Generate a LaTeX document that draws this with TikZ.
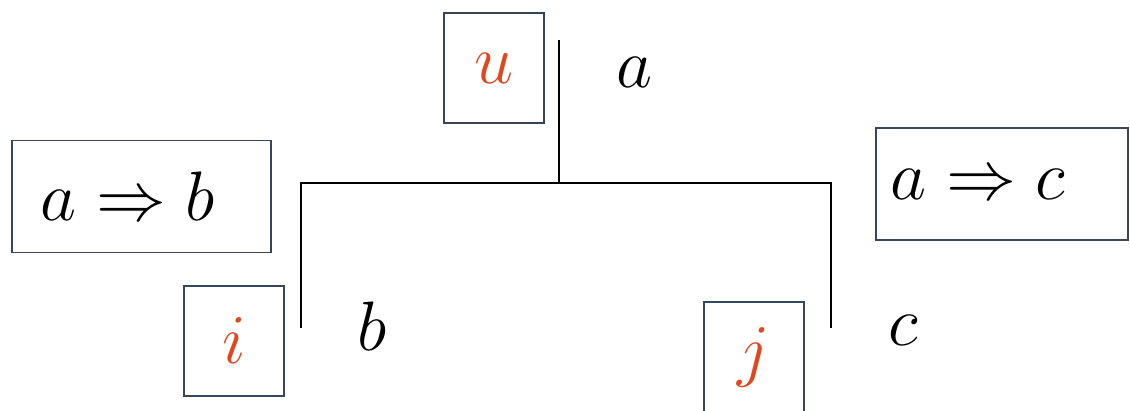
\RequirePackage{fix-cm}
\documentclass[tikz,border=0pt]{standalone}
\usepackage{amsmath}
\usepackage{amssymb}
\usepackage{xcolor}
\definecolor{boxline}{RGB}{55,70,90}
\definecolor{lbl}{RGB}{225,70,30}

\begin{document}
\begin{tikzpicture}[x=1pt, y=-1pt, line width=1.6pt,
    every node/.style={font=\fontsize{70}{80}\selectfont},
    tag/.style={draw=boxline, line width=1.4pt, minimum width=100pt, minimum height=110pt, text=lbl, inner sep=0pt},
    rule/.style={draw=boxline, line width=1.4pt, minimum height=112pt, inner sep=0pt}]
    \useasboundingbox (0,0) rectangle (1130,410);
    % tree
    \coordinate (top) at (559,40);
    \coordinate (mid) at (559,183);
    \coordinate (lc) at (301,183);
    \coordinate (le) at (301,328);
    \coordinate (rc) at (831,183);
    \coordinate (re) at (831,328);
    \draw (top) -- (mid);
    \draw (le) -- (lc) -- (rc) -- (re);
    % labels on the tree
    \node[tag] (u) at (494,68) {$u$};
    \node[tag] (i) at (234,341) {$i$};
    \node[tag] (j) at (754,357) {$j$};
    \node (a) at (634,72) {$a$};
    \node (b) at (372,326) {$b$};
    \node (c) at (903,330) {$c$};
    % rules
    \node[rule, minimum width=259pt] (ab) at (141.5,196.5) {$a \Rightarrow b$\kern27pt};
    \node[rule, minimum width=252pt] (ac) at (1002,184) {$a \Rightarrow c$\kern48pt};
\end{tikzpicture}
\end{document}
